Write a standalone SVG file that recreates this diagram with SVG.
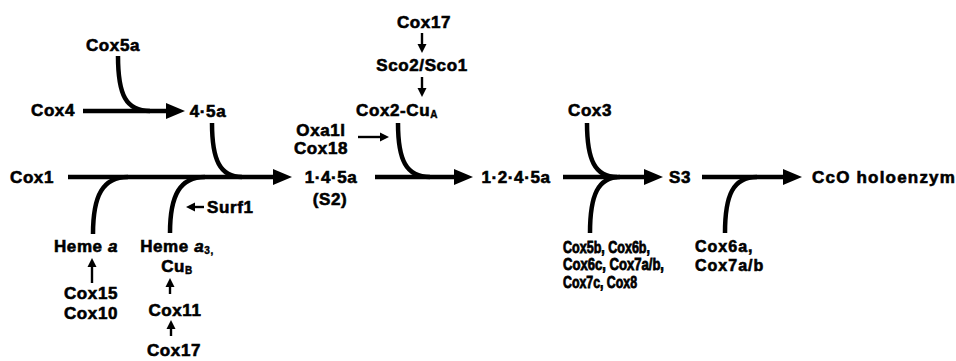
<svg xmlns="http://www.w3.org/2000/svg" width="956" height="361" viewBox="0 0 956 361">
<style>
text{font-family:"Liberation Sans",Arial,sans-serif;font-weight:bold;font-size:17px;fill:#000;stroke:#000;stroke-width:0.6px;letter-spacing:0.6px}
.m{text-anchor:middle}
.sub{font-size:10px;stroke-width:0.4px}
.it{font-style:italic}
.c{font-size:16px;letter-spacing:0;stroke-width:0.8px}
.d{font-size:16px;letter-spacing:1px}
.thick{fill:none;stroke:#000;stroke-width:4.5;stroke-linecap:butt}
.thin{fill:none;stroke:#000;stroke-width:2.4}
</style>
<defs>
<marker id="big" markerUnits="userSpaceOnUse" markerWidth="20" markerHeight="18" refX="1" refY="9" orient="auto" overflow="visible"><path d="M0,1 L19,9 L0,17 z" fill="#000"/></marker>
<marker id="small" markerUnits="userSpaceOnUse" markerWidth="9" markerHeight="9" refX="1" refY="4.5" orient="auto" overflow="visible"><path d="M0,0 L9,4.5 L0,9 z" fill="#000"/></marker>
</defs>
<g id="connectors">
<path class="thick" d="M83,111 L167,111" marker-end="url(#big)"/>
<path class="thick" d="M118,56 C118,95 126,111 150,111"/>
<path class="thick" d="M68,177 L274,177" marker-end="url(#big)"/>
<path class="thick" d="M212,123 C212,160 220,177 242,177"/>
<path class="thick" d="M93,234 C93,195 103,177 128,177"/>
<path class="thick" d="M170,233 C170,195 180,177 205,177"/>
<path class="thick" d="M375,177 L455,177" marker-end="url(#big)"/>
<path class="thick" d="M398,123 C398,160 406,177 430,177"/>
<path class="thick" d="M563,177 L645,177" marker-end="url(#big)"/>
<path class="thick" d="M587,123 C587,160 595,177 617,177"/>
<path class="thick" d="M590,233 C590,195 598,177 620,177"/>
<path class="thick" d="M702,177 L784,177" marker-end="url(#big)"/>
<path class="thick" d="M725,233 C725,195 733,177 757,177"/>
<path class="thin" d="M204,207 L194,207" marker-end="url(#small)"/>
<path class="thin" d="M358,137 L381,137" marker-end="url(#small)"/>
<path class="thin" d="M422,33 L422,45" marker-end="url(#small)"/>
<path class="thin" d="M422,77 L422,89" marker-end="url(#small)"/>
<path class="thin" d="M92,283 L92,266" marker-end="url(#small)"/>
<path class="thin" d="M170,294 L170,286" marker-end="url(#small)"/>
<path class="thin" d="M171,336 L171,328" marker-end="url(#small)"/>
</g>
<g id="cox5a"><text class="m" x="113" y="51">Cox5a</text></g>
<g id="cox4"><text class="m" x="53" y="116">Cox4</text></g>
<g id="n45a"><text class="m" x="208" y="117">4·5a</text></g>
<g id="cox1"><text class="m" x="32" y="183">Cox1</text></g>
<g id="s2"><text class="m" x="331" y="183">1·4·5a</text><text class="m" x="330" y="205">(S2)</text></g>
<g id="hemea"><text class="m" x="86" y="252">Heme <tspan class="it">a</tspan></text></g>
<g id="hemea3"><text class="m" x="177" y="252">Heme <tspan class="it">a</tspan><tspan class="sub" dy="2">3,</tspan></text><text class="m" x="177" y="272">Cu<tspan class="sub" dy="2">B</tspan></text></g>
<g id="cox15"><text class="m" x="91" y="299">Cox15</text><text class="m" x="91" y="319">Cox10</text></g>
<g id="cox11"><text class="m" x="175" y="316">Cox11</text></g>
<g id="cox17b"><text class="m" x="174" y="356">Cox17</text></g>
<g id="surf1"><text x="207" y="213">Surf1</text></g>
<g id="cox17t"><text class="m" x="424" y="28">Cox17</text></g>
<g id="sco"><text class="m" x="422" y="71">Sco2/Sco1</text></g>
<g id="cox2"><text class="m" x="397" y="116">Cox2-Cu<tspan class="sub" dy="2">A</tspan></text></g>
<g id="oxa1l"><text class="m" x="321" y="136">Oxa1l</text><text class="m" x="321" y="154">Cox18</text></g>
<g id="n1245a"><text class="m" x="516" y="183">1·2·4·5a</text></g>
<g id="cox3"><text class="m" x="590" y="116">Cox3</text></g>
<g id="s3"><text class="m" x="680" y="183">S3</text></g>
<g id="holo"><text x="812" y="183" style="letter-spacing:1.2px">CcO holoenzym</text></g>
<g id="cox5b"><text class="c" x="563" y="253" textLength="87" lengthAdjust="spacingAndGlyphs">Cox5b, Cox6b,</text><text class="c" x="563" y="270" textLength="101" lengthAdjust="spacingAndGlyphs">Cox6c, Cox7a/b,</text><text class="c" x="563" y="288" textLength="74" lengthAdjust="spacingAndGlyphs">Cox7c, Cox8</text></g>
<g id="cox6a"><text class="d" x="695" y="252">Cox6a,</text><text class="d" x="695" y="271">Cox7a/b</text></g>
</svg>
